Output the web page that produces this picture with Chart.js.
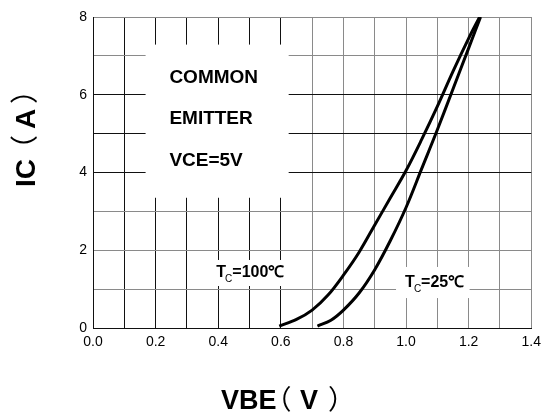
<!DOCTYPE html>
<html>
<head>
<meta charset="utf-8">
<script src="https://cdn.jsdelivr.net/npm/chart.js@4.4.1/dist/chart.umd.min.js"></script>
<style>
  html, body { margin: 0; background: #fff; }
  #chart { display: block; }
</style>
</head>
<body>
<canvas id="chart" width="547" height="412"></canvas>
<script>
// IC vs VBE, common emitter, VCE = 5 V.
const vbeHot = [0.595, 0.65, 0.70, 0.75, 0.80, 0.85, 0.90, 0.95, 1.00, 1.05, 1.10, 1.15, 1.20, 1.235];
const icHot = [0.05, 0.22, 0.46, 0.84, 1.36, 1.95, 2.65, 3.35, 4.05, 4.85, 5.7, 6.6, 7.45, 8.0];

const vbeRoom = [0.717, 0.76, 0.80, 0.85, 0.90, 0.95, 1.00, 1.05, 1.10, 1.15, 1.20, 1.238];
const icRoom = [0.05, 0.2, 0.46, 0.9, 1.5, 2.25, 3.1, 4.1, 5.1, 6.15, 7.2, 8.0];

// only every other grid line carries a label
const xTickLabels = ['0.0', '0.2', '0.4', '0.6', '0.8', '1.0', '1.2', '1.4'];
const yTickLabels = ['0', '2', '4', '6', '8'];

const FONT = '"Liberation Sans", Arial, sans-serif';
const CJK = '"Noto Sans CJK SC", sans-serif';
const DARK = '#111';
const GREY = '#8a8a8a';

const toPoints = (xs, ys) => xs.map((v, i) => ({ x: v, y: ys[i] }));

// the scan has some grid lines printed darker than others
const xGridColor = (ctx) => (ctx.tick && ctx.tick.value <= 0.61 ? DARK : GREY);
const yGridColor = (ctx) => {
    const v = ctx.tick ? Math.round(ctx.tick.value) : 0;
    return [0, 4, 5, 6].includes(v) ? DARK : GREY;
};

// white knock-outs behind the notes (data units: x0, y0, x1, y1)
const boxes = [
    [0.168, 7.29, 0.625, 3.35],
    [0.378, 1.75, 0.613, 1.08],
    [0.968, 1.57, 1.203, 0.77],
];

// draw text so that its ink is centred on `center`
function inkAt(ctx, text, center, base) {
    const m = ctx.measureText(text);
    ctx.fillText(text, center - (m.actualBoundingBoxRight - m.actualBoundingBoxLeft) / 2, base);
}

const notes = {
    id: 'notes',
    beforeDatasetsDraw(chart) {
        const { ctx, scales: { x, y } } = chart;
        ctx.save();
        ctx.fillStyle = '#fff';
        for (const [x0, y0, x1, y1] of boxes) {
            const px = x.getPixelForValue(x0);
            const py = y.getPixelForValue(y0);
            ctx.fillRect(px, py, x.getPixelForValue(x1) - px, y.getPixelForValue(y1) - py);
        }
        ctx.restore();
    },
    afterDraw(chart) {
        const { ctx, scales: { x, y } } = chart;
        ctx.save();
        ctx.fillStyle = '#000';
        ctx.textBaseline = 'alphabetic';
        ctx.textAlign = 'left';

        ctx.font = `bold 19px ${FONT}`;
        const left = x.getPixelForValue(0.244);
        ctx.fillText('COMMON', left, 83);
        ctx.fillText('EMITTER', left, 124);
        ctx.fillText('VCE=5V', left, 166);

        const tempLabel = (vx, vy, rest) => {
            let px = x.getPixelForValue(vx);
            const py = y.getPixelForValue(vy);
            ctx.font = `bold 16px ${FONT}`;
            ctx.fillText('T', px, py);
            px += ctx.measureText('T').width - 1;
            ctx.font = `10px ${FONT}`;
            ctx.fillText('C', px, py + 5);
            px += ctx.measureText('C').width;
            ctx.font = `bold 16px ${FONT}`;
            ctx.fillText(rest, px, py);
        };
        tempLabel(0.394, 1.31, '=100℃');
        tempLabel(0.997, 1.06, '=25℃');

        // axis titles: VBE（V） and IC（A）, the wide brackets spaced as on the sheet
        ctx.font = `bold 27px ${FONT}`;
        ctx.fillText('VBE', 221, 409);
        inkAt(ctx, 'V', 309, 409);
        ctx.font = `27px ${CJK}`;
        inkAt(ctx, '（', 286.5, 409);
        inkAt(ctx, '）', 333, 409);

        ctx.translate(35, 0);
        ctx.rotate(-Math.PI / 2);
        ctx.font = `bold 28px ${FONT}`;
        ctx.fillText('IC', -187, 0);
        inkAt(ctx, 'A', -119, 0);
        ctx.font = `28px ${CJK}`;
        inkAt(ctx, '（', -140, 0);
        inkAt(ctx, '）', -99, 0);
        ctx.restore();
    },
};

const curve = (data) => ({
    data,
    showLine: true,
    borderColor: '#000',
    borderWidth: 3,
    pointRadius: 0,
    tension: 0.35,
});

new Chart(document.getElementById('chart'), {
    type: 'scatter',
    data: {
        datasets: [curve(toPoints(vbeHot, icHot)), curve(toPoints(vbeRoom, icRoom))],
    },
    plugins: [notes],
    options: {
        responsive: false,
        animation: false,
        events: [],
        layout: { padding: { top: 17, right: 13, left: 0, bottom: 0 } },
        plugins: { legend: { display: false }, tooltip: { enabled: false } },
        scales: {
            x: {
                min: 0,
                max: 1.4,
                afterFit: (s) => { s.height = 84; },
                border: { color: DARK, width: 1 },
                grid: { color: xGridColor, drawTicks: false },
                ticks: {
                    stepSize: 0.1,
                    padding: 6,
                    color: '#000',
                    maxRotation: 0,
                    autoSkip: false,
                    font: { family: FONT, size: 14 },
                    callback: (v) => {
                        const i = Math.round(v * 10);
                        return i % 2 === 0 ? xTickLabels[i / 2] : '';
                    },
                },
            },
            y: {
                min: 0,
                max: 8,
                afterFit: (s) => { s.width = 93; },
                border: { color: DARK, width: 1 },
                grid: { color: yGridColor, drawTicks: false },
                ticks: {
                    stepSize: 1,
                    padding: 6,
                    color: '#000',
                    autoSkip: false,
                    font: { family: FONT, size: 14 },
                    callback: (v) => {
                        const i = Math.round(v);
                        return i % 2 === 0 ? yTickLabels[i / 2] : '';
                    },
                },
            },
        },
    },
});
</script>
</body>
</html>
